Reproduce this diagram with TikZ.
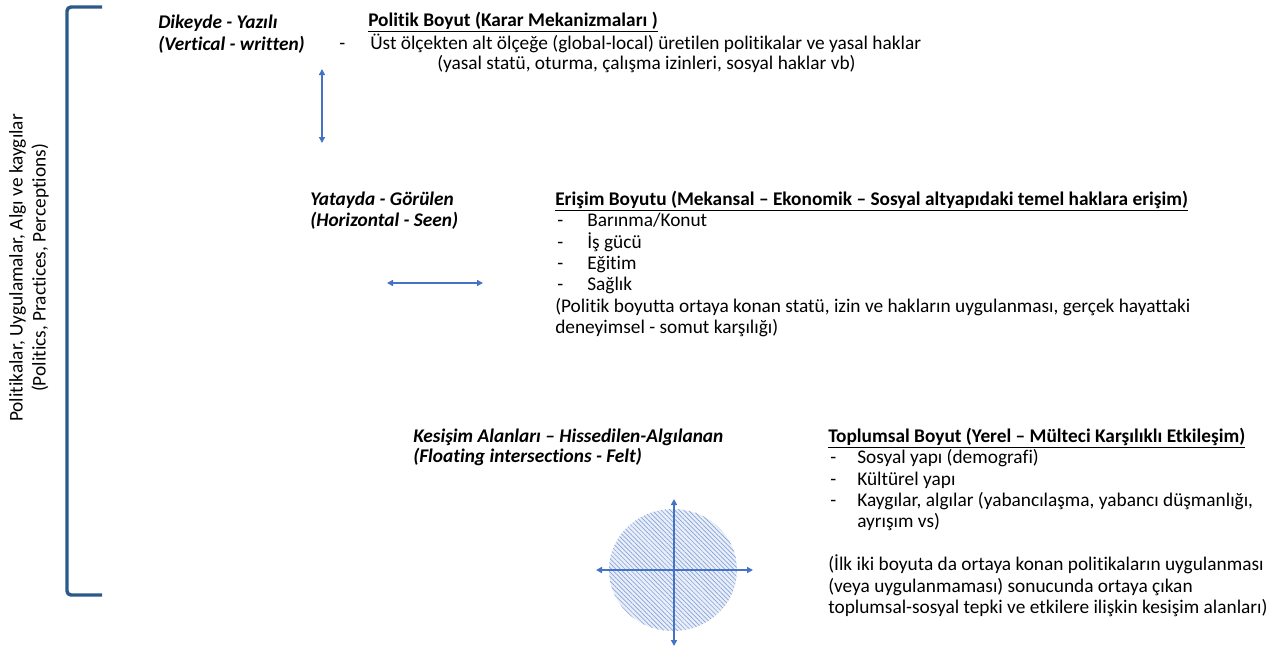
\documentclass[tikz,border=0pt]{standalone}
\usepackage{fontspec}
\setmainfont{Carlito}[Ligatures={NoCommon,NoRare}]
\usetikzlibrary{arrows.meta,patterns.meta}
\definecolor{axisblue}{HTML}{4472C4}
\definecolor{bracketblue}{HTML}{2C5A88}
\tikzset{
  txt/.style={anchor=base west, inner sep=0pt, font=\fontsize{14.5}{16}\selectfont},
  dimlabel/.style={txt, font=\fontsize{14.5}{16}\selectfont\bfseries\itshape},
  headlabel/.style={txt, font=\fontsize{14.5}{16}\selectfont\bfseries},
  dblarrow/.style={{Triangle[width=4.5pt,length=4.5pt]}-{Triangle[width=4.5pt,length=4.5pt]}, axisblue, line width=1.4pt}
}
\begin{document}
\begin{tikzpicture}[x=0.75pt, y=-0.75pt, line join=round]
    \useasboundingbox (0,0) rectangle (1281,650);

    % left bracket
    \draw[bracketblue, line width=2.6pt, rounded corners=3pt] (102,7) -- (67,7) -- (67,595) -- (102,595);
    \node[rotate=90, align=center, inner sep=0pt, font=\fontsize{14.5}{17.25}\selectfont] (sidelabel) at (29,268)
        {Politikalar, Uygulamalar, Algı ve kaygılar\\(Politics, Practices, Perceptions)};

    % vertical - written
    \node[dimlabel] (dikey) at (158,28) {Dikeyde - Yazılı};
    \node[dimlabel] (vertical) at (158,50) {(Vertical - written)};
    \node[headlabel] (politik) at (368,26) {\underline{Politik Boyut (Karar Mekanizmaları )}};
    \node[txt] (pdash) at (339,49) {-};
    \node[txt] (pline1) at (370,49) {Üst ölçekten alt ölçeğe (global-local) üretilen politikalar ve yasal haklar};
    \node[txt] (pline2) at (437,69) {(yasal statü, oturma, çalışma izinleri, sosyal haklar vb)};
    \coordinate (vtop) at (322,69);
    \coordinate (vbot) at (322,143);
    \draw[dblarrow] (vtop) -- (vbot);

    % horizontal - seen
    \node[dimlabel] (yatay) at (310,205.5) {Yatayda - Görülen};
    \node[dimlabel] (horizontal) at (310,226.5) {(Horizontal - Seen)};
    \node[headlabel] (erisim) at (555,205.5)
        {\underline{Erişim Boyutu (Mekansal – Ekonomik – Sosyal altyapıdaki temel haklara erişim)}};
    \foreach \item [count=\i] in {Barınma/Konut, İş gücü, Eğitim, Sağlık} {
        \node[txt] (edash\i) at (557,205.5+21.3*\i) {-};
        \node[txt] (eitem\i) at (587,205.5+21.3*\i) {\item};
    }
    \node[txt] (enote1) at (555,312.5) {(Politik boyutta ortaya konan statü, izin ve hakların uygulanması, gerçek hayattaki};
    \node[txt] (enote2) at (555,333.5) {deneyimsel - somut karşılığı)};
    \coordinate (hleft) at (387,283);
    \coordinate (hright) at (483,283);
    \draw[dblarrow] (hleft) -- (hright);

    % intersections - felt
    \node[dimlabel] (kesisim) at (413,442.5) {Kesişim Alanları – Hissedilen-Algılanan};
    \node[dimlabel] (floating) at (413,462.5) {(Floating intersections - Felt)};
    \node[headlabel] (toplumsal) at (828,442.5)
        {\underline{Toplumsal Boyut (Yerel – Mülteci Karşılıklı Etkileşim)}};
    \foreach \item [count=\i] in {Sosyal yapı (demografi), Kültürel yapı, {Kaygılar, algılar (yabancılaşma, yabancı düşmanlığı,}} {
        \node[txt] (tdash\i) at (830,442.5+21.3*\i) {-};
        \node[txt] (titem\i) at (857,442.5+21.3*\i) {\item};
    }
    \node[txt] (titem4) at (857,527.5) {ayrışım vs)};
    \node[txt] (tnote1) at (828,570.5) {(İlk iki boyuta da ortaya konan politikaların uygulanması};
    \node[txt] (tnote2) at (828,592.5) {(veya uygulanmaması) sonucunda ortaya çıkan};
    \node[txt] (tnote3) at (828,613.5) {toplumsal-sosyal tepki ve etkilere ilişkin kesişim alanları)};

    % hatched intersection area
    \fill[axisblue!12] (673,570) ellipse [x radius=64, y radius=61];
    \fill[pattern={Lines[angle=-45, distance=2.4pt, line width=0.5pt]}, pattern color=axisblue!65] (673,570) ellipse [x radius=64, y radius=61];
    \coordinate (atop) at (674,499);
    \coordinate (abot) at (674,646);
    \coordinate (aleft) at (596,570);
    \coordinate (aright) at (753,570);
    \draw[dblarrow] (atop) -- (abot);
    \draw[dblarrow] (aleft) -- (aright);
\end{tikzpicture}
\end{document}
